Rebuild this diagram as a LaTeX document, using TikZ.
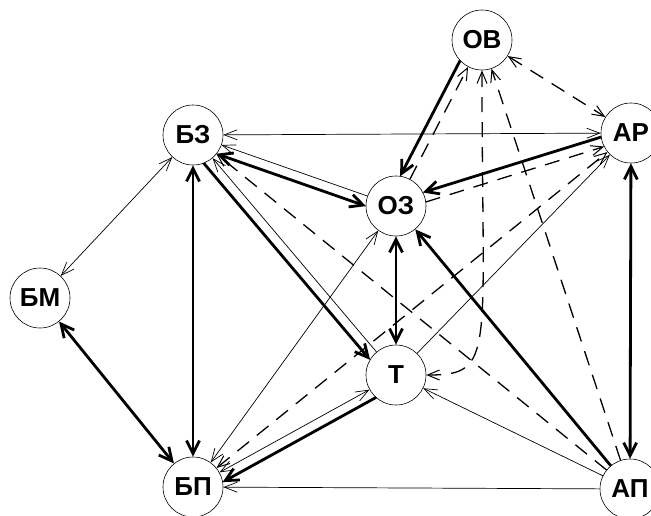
\documentclass[tikz,border=0pt]{standalone}
\usepackage{fontspec}
\setmainfont{Liberation Sans}
\usetikzlibrary{arrows.meta,calc}
\begin{document}
\begin{tikzpicture}[x=1pt,y=-1pt,
  vert/.style={circle,draw,line width=0.6pt,minimum size=60pt,inner sep=0pt,
    font=\fontsize{26}{26}\selectfont\bfseries},
  thk/.style={line width=2.8pt},
  thn/.style={line width=0.7pt},
  dsh/.style={line width=1.3pt,dash pattern=on 15pt off 10pt},
  offA/.style={shorten <=28.3pt,shorten >=28.3pt},
  offB/.style={shorten <=29.6pt,shorten >=29.6pt},
  Hk/.tip={Straight Barb[length=13pt,width=13pt]},
  Hn/.tip={Straight Barb[length=13pt,width=10pt]},
  Hd/.tip={Straight Barb[length=12pt,width=10pt,line width=1pt]}
]
\useasboundingbox (0,0) rectangle (651,515);
\node[vert] (OV) at (482,40) {ОВ};
\node[vert] (BZ) at (193,135) {БЗ};
\node[vert] (AR) at (631,133) {АР};
\node[vert] (OZ) at (396,206) {ОЗ};
\node[vert] (BM) at (40,298) {БМ};
\node[vert] (T) at (396,375) {Т};
\node[vert] (BP) at (193,487) {БП};
\node[vert] (AP) at (630,489) {АП};
% thick
\draw[thk,offA,-{Hk}] ($(OV)!10pt!-90:(OZ)$) -- ($(OZ)!10pt!90:(OV)$);
\draw[thk,offA,{Hk}-{Hk}] ($(BZ)!10pt!-90:(OZ)$) -- ($(OZ)!10pt!90:(BZ)$);
\draw[thk,offA,-{Hk}] ($(BZ)!10pt!-90:(T)$) -- ($(T)!10pt!90:(BZ)$);
\draw[thk,{Hk}-{Hk}] (BZ) -- (BP);
\draw[thk,{Hk}-{Hk}] (BM) -- (BP);
\draw[thk,{Hk}-{Hk}] (OZ) -- (T);
\draw[thk,offB,-{Hk}] ($(AR)!5pt!-90:(OZ)$) -- ($(OZ)!5pt!90:(AR)$);
\draw[thk,{Hk}-{Hk}] (AR) -- (AP);
\draw[thk,-{Hk}] (AP) -- (OZ);
\draw[thk,offA,-{Hk}] ($(T)!10pt!90:(BP)$) -- ($(BP)!10pt!-90:(T)$);
% thin
\draw[thn,{Hn}-{Hn}] (AR) -- (BZ);
\draw[thn,-{Hn}] (OZ) -- (BZ);
\draw[thn,-{Hn}] (T) -- (BZ);
\draw[thn,{Hn}-{Hn}] (BZ) -- (BM);
\draw[thn,{Hn}-{Hn}] (BP) -- (OZ);
\draw[thn,{Hn}-{Hn}] (BP) -- (T);
\draw[thn,-{Hn}] (T) -- (AR);
\draw[thn,-{Hn}] (AP) -- (T);
\draw[thn,-{Hn}] (AP) -- (BP);
% dashed
\draw[dsh,-{Hd}] (OZ) -- (OV);
\draw[dsh,{Hd}-{Hd}] (OV) -- (AR);
\draw[dsh,{Hd}-{Hd}] (OV.south) .. controls +(0,285) and +(70,0) .. (T.east);
\draw[dsh,-{Hd}] (AP) -- (OV);
\draw[dsh,offB,-{Hd}] ($(OZ)!5pt!-90:(AR)$) -- ($(AR)!5pt!90:(OZ)$);
\draw[dsh,{Hd}-{Hd}] (BP) -- (AR);
\draw[dsh,-{Hd}] (AP) -- (BZ);
\end{tikzpicture}
\end{document}
